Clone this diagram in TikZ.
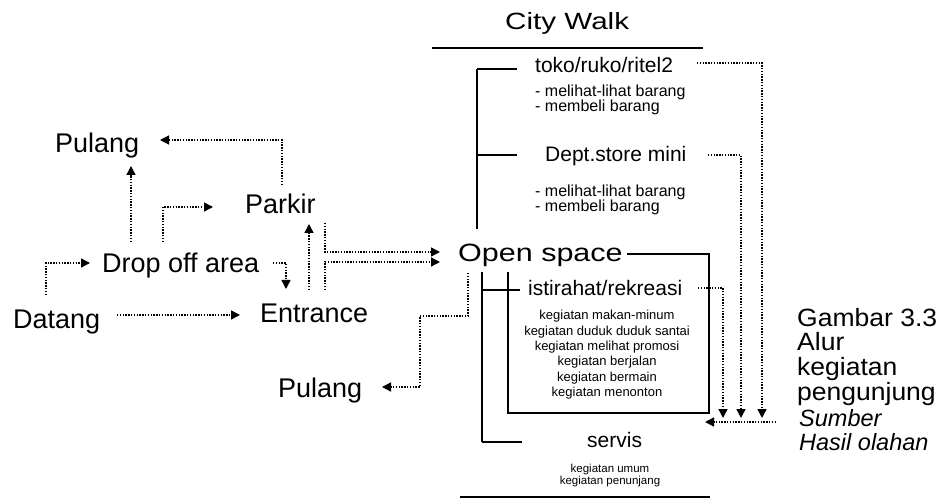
\documentclass[tikz,border=0pt]{standalone}
\usepackage{fontspec}
\setmainfont{Liberation Sans}
\newfontfamily\widefont[FakeStretch=1.22]{Liberation Sans}
\newfontfamily\cwfont[FakeStretch=1.26]{Liberation Sans}
\newfontfamily\capfont[FakeStretch=1.06]{Liberation Sans}
\usetikzlibrary{arrows.meta,calc}
\begin{document}
\begin{tikzpicture}[x=1pt,y=-1pt,
  lbl/.style={inner sep=0pt, anchor=base west, font=\fontsize{27}{30}\selectfont},
  sub/.style={inner sep=0pt, anchor=base west, font=\fontsize{21}{24}\selectfont},
  item/.style={inner sep=0pt, anchor=base west, font=\fontsize{16}{18}\selectfont},
  tiny/.style={inner sep=0pt, align=center, anchor=north, font=\fontsize{13}{15.4}\selectfont},
  captxt/.style={inner sep=0pt, anchor=base west, font=\capfont\fontsize{25}{26}\selectfont},
  capit/.style={captxt, font=\itshape\fontsize{23.5}{25}\selectfont},
  flow/.style={line width=1.4pt, dash pattern=on 1.4pt off 1.4pt, -{Triangle[length=9pt,width=9pt]}},
  tree/.style={line width=1.8pt},
  rule/.style={line width=2.5pt},
]
\useasboundingbox (0,0) rectangle (944,502);
\fill[white] (0,0) rectangle (944,502);

% left flow nodes
\node[lbl] (pulangA) at (55,153) {Pulang};
\node[lbl] (parkir) at (245,214) {Parkir};
\node[lbl] (drop) at (102,273) {Drop off area};
\node[lbl] (datang) at (13,328) {Datang};
\node[lbl] (entrance) at (260,322) {Entrance};
\node[lbl] (pulangB) at (278,397) {Pulang};
\node[lbl, font=\widefont\fontsize{25}{28}\selectfont] (open) at (458,262) {Open space};

% city walk block
\node[lbl, font=\cwfont\fontsize{23.5}{26}\selectfont] (city) at (505,30) {City Walk};
\node[sub] (toko) at (535,73) {toko/ruko/ritel2};
\node[item] (t1) at (535,97) {- melihat-lihat barang};
\node[item] (t2) at (535,112) {- membeli barang};
\node[sub] (dept) at (545,162) {Dept.store mini};
\node[item] (d1) at (535,197) {- melihat-lihat barang};
\node[item] (d2) at (535,212) {- membeli barang};
\node[sub] (ist) at (528,296) {istirahat/rekreasi};
\node[tiny] (istlist) at (607,310) {kegiatan makan-minum\\kegiatan duduk duduk santai\\kegiatan melihat promosi\\kegiatan berjalan\\kegiatan bermain\\kegiatan menonton};
\node[sub] (servis) at (587,447) {servis};
\node[tiny, font=\fontsize{11.5}{11.5}\selectfont] (servlist) at (610,464) {kegiatan umum\\kegiatan penunjang};

% caption
\node[captxt] (gambar) at (797,326) {Gambar 3.3};
\node[captxt] (alur) at (797,350) {Alur};
\node[captxt] (keg) at (797,375) {kegiatan};
\node[captxt] (peng) at (797,400) {pengunjung};
\node[capit] (sumber) at (799,426) {Sumber};
\node[capit] (hasil) at (799,450) {Hasil olahan};

% rules
\draw[rule] (432,48) -- (703,48);
\draw[rule] (460,497) -- (710,497);

% tree lines
\draw[tree] (477,69) -- (477,229);
\draw[tree] (477,69) -- ($(toko.base west)+(-18,-4)$);
\draw[tree] (477,155) -- ($(dept.base west)+(-28,-7)$);
\draw[tree] (482,272) -- (482,442);
\draw[tree] (482,290) -- ($(ist.base west)+(-8,-6)$);
\draw[tree] (482,442) -- ($(servis.base west)+(-65,-5)$);
\draw[tree] ($(open.base east)+(4,-8)$) -| (709,413) -| (508,272);

% free ends
\coordinate (a1) at (762,418);
\coordinate (a2) at (741,418);
\coordinate (a3) at (723,418);
\coordinate (b1) at (776,422);
\coordinate (b2) at (705,422);

% dotted flows
\draw[flow] ($(datang.base west)+(104,-13)$) -- ($(entrance.base west)+(-20,-7)$);
\draw[flow] ($(datang.base west)+(33,-33)$) |- ($(drop.base west)+(-12,-10)$);
\draw[flow] ($(drop.base west)+(171,-10)$) -| ($(entrance.base west)+(26,-33)$);
\draw[flow] ($(drop.base west)+(61,-31)$) |- ($(parkir.base west)+(-32,-7)$);
\draw[flow] ($(drop.base west)+(29,-31)$) -- ($(pulangA.base west)+(76,13)$);
\draw[flow] ($(parkir.base west)+(37,-29)$) |- ($(pulangA.base west)+(105,-13)$);
\draw[flow] ($(entrance.base west)+(49,-32)$) -- ($(parkir.base west)+(64,10)$);
\draw[flow] ($(parkir.base west)+(80,9)$) |- ($(open.base west)+(-18,-10)$);
\draw[flow] ($(entrance.base west)+(65,-32)$) |- ($(open.base west)+(-18,0)$);
\draw[flow] ($(open.base west)+(10,11)$) |- ($(pulangB.base west)+(142,-81)$) |- ($(pulangB.base west)+(104,-10)$);
\draw[flow] ($(toko.base west)+(162,-10)$) -| (a1);
\draw[flow] ($(dept.base west)+(163,-7)$) -| (a2);
\draw[flow] ($(ist.base west)+(170,-8)$) -| (a3);
\draw[flow] (b1) -- (b2);
\end{tikzpicture}
\end{document}
